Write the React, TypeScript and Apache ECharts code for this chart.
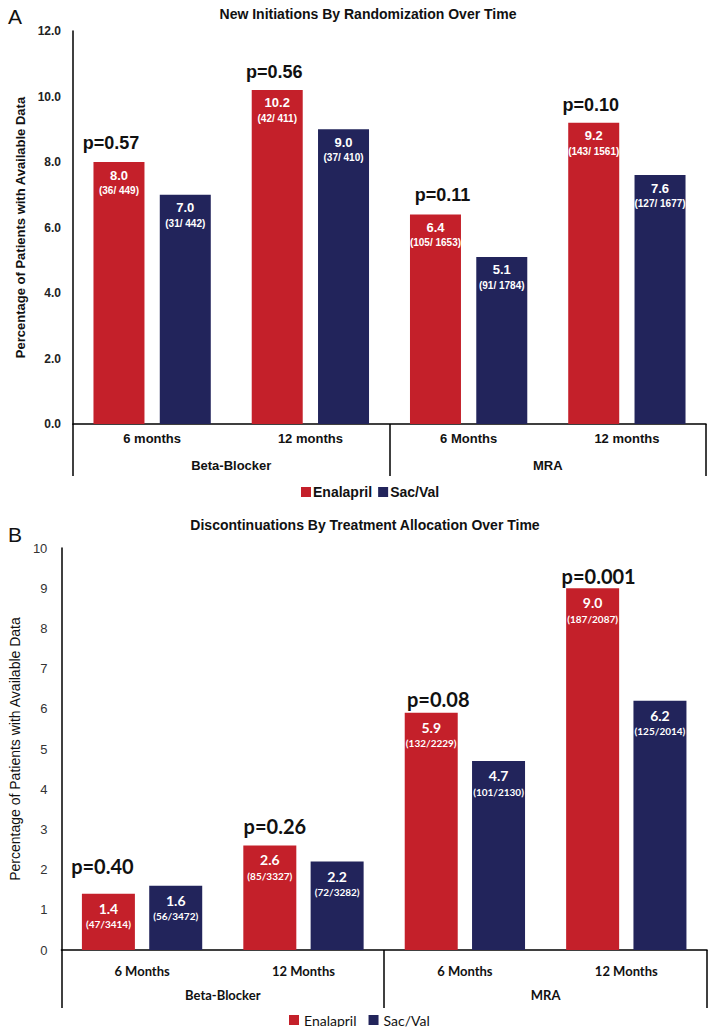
import React, { useEffect, useRef } from "react";
import * as echarts from "echarts";

// ---------- Panel A data ----------
const catsA = ["6 months", "12 months", "6 Months", "12 months"];
const groupsA = ["Beta-Blocker", "MRA"];
const enalA = [8.0, 10.2, 6.4, 9.2];
const sacA = [7.0, 9.0, 5.1, 7.6];
const enalFracA = ["(36/ 449)", "(42/ 411)", "(105/ 1653)", "(143/ 1561)"];
const sacFracA = ["(31/ 442)", "(37/ 410)", "(91/ 1784)", "(127/ 1677)"];
const pA = ["p=0.57", "p=0.56", "p=0.11", "p=0.10"];
const yTicksA = [0, 2, 4, 6, 8, 10, 12];

// ---------- Panel B data ----------
const catsB = ["6 Months", "12 Months", "6 Months", "12 Months"];
const groupsB = ["Beta-Blocker", "MRA"];
const enalB = [1.4, 2.6, 5.9, 9.0];
const sacB = [1.6, 2.2, 4.7, 6.2];
const enalFracB = ["(47/3414)", "(85/3327)", "(132/2229)", "(187/2087)"];
const sacFracB = ["(56/3472)", "(72/3282)", "(101/2130)", "(125/2014)"];
const pB = ["p=0.40", "p=0.26", "p=0.08", "p=0.001"];
const yTicksB = [0, 1, 2, 3, 4, 5, 6, 7, 8, 9, 10];

const seriesNames = ["Enalapril", "Sac/Val"];

// layout offsets for p-value labels (pixels)
const pOffsetA = [[-8, -19], [-3, -18], [7, -19], [-3, -18]];
const pOffsetB = [[-6, -28], [5, -19], [7, -14], [6, -12]];

const RED = "#C4202A";
const NAVY = "#22245B";
const FA = "Liberation Sans, Arial, Helvetica, sans-serif";
const FB = "Lato, Carlito, Calibri, sans-serif";

function barLabel(fracs: string[], font: string, vSize: number, fSize: number, dist: number) {
  return {
    show: true,
    position: "insideTop",
    distance: dist,
    formatter: (p: any) => `{v|${Number(p.value).toFixed(1)}}\n{f|${fracs[p.dataIndex]}}`,
    rich: {
      v: { color: "#fff", fontFamily: font, fontWeight: "bold", fontSize: vSize, lineHeight: vSize + 3, align: "center" },
      f: { color: "#fff", fontFamily: font, fontWeight: "bold", fontSize: fSize, lineHeight: fSize + 5, align: "center" },
    },
  };
}

function pMarks(vals: number[], labels: string[], offsets: number[][], font: string, size: number) {
  return {
    symbol: "circle",
    symbolSize: 1,
    itemStyle: { color: "rgba(0,0,0,0)" },
    silent: true,
    label: {
      show: true,
      position: "inside",
      formatter: "{b}",
      color: "#111",
      fontFamily: font,
      fontWeight: "bold",
      fontSize: size,
    },
    data: vals.map((v, i) => ({
      name: labels[i],
      coord: [i, v],
      label: { offset: offsets[i] },
    })),
  };
}

export default function App() {
  const ref = useRef<HTMLDivElement>(null);
  useEffect(() => {
    document.body.style.margin = "0";
    const chart = echarts.init(ref.current!, null, { renderer: "svg" });
    const axisLineBlack = { show: true, lineStyle: { color: "#000", width: 1.5 } };
    const option: any = {
      animation: false,
      backgroundColor: "#fff",
      title: [
        { text: "A", left: 3, top: 1, textStyle: { fontFamily: FA, fontSize: 21, fontWeight: "normal", color: "#111" } },
        { text: "New Initiations By Randomization Over Time", left: 363, top: 2, textAlign: "center",
          textStyle: { fontFamily: FA, fontSize: 14, fontWeight: "bold", color: "#111" } },
        { text: "B", left: 3, top: 519, textStyle: { fontFamily: FA, fontSize: 21, fontWeight: "normal", color: "#111" } },
        { text: "Discontinuations By Treatment Allocation Over Time", left: 360, top: 513, textAlign: "center",
          textStyle: { fontFamily: FA, fontSize: 14, fontWeight: "bold", color: "#111" } },
      ],
      legend: [
        { data: seriesNames, left: 296, top: 480, itemWidth: 10, itemHeight: 10, itemGap: 6,
          textStyle: { fontFamily: FA, fontSize: 14, fontWeight: "bold", color: "#111", padding: [0, 0, 0, -3] }, icon: "rect" },
        { data: seriesNames, left: 284, top: 1008, itemWidth: 10, itemHeight: 10, itemGap: 12,
          textStyle: { fontFamily: FB, fontSize: 14, color: "#111" }, icon: "rect" },
      ],
      grid: [
        { left: 73, right: 3, top: 31, height: 393 },
        { left: 43, right: 2, top: 548, height: 402 },
      ],
      xAxis: [
        { type: "category", gridIndex: 0, data: catsA, axisLine: axisLineBlack, axisTick: { show: false },
          axisLabel: { margin: 8, fontFamily: FA, fontWeight: "bold", fontSize: 13, color: "#111" } },
        { type: "category", gridIndex: 0, data: groupsA, position: "bottom", axisLine: { show: false },
          axisTick: { show: true, interval: 0, length: 52, lineStyle: { color: "#000", width: 1.5 } },
          axisLabel: { margin: 35, fontFamily: FA, fontWeight: "bold", fontSize: 13, color: "#111" } },
        { type: "category", gridIndex: 1, data: catsB, axisLine: axisLineBlack, axisTick: { show: false },
          axisLabel: { margin: 14, fontFamily: FB, fontWeight: "bold", fontSize: 13, color: "#111" } },
        { type: "category", gridIndex: 1, data: groupsB, position: "bottom", axisLine: { show: false },
          axisTick: { show: true, interval: 0, length: 58, lineStyle: { color: "#000", width: 1.5 } },
          axisLabel: { margin: 38, fontFamily: FB, fontWeight: "bold", fontSize: 13, color: "#111" } },
      ],
      yAxis: [
        { type: "value", gridIndex: 0, min: yTicksA[0], max: yTicksA[yTicksA.length - 1], interval: 2,
          axisLine: axisLineBlack, axisTick: { show: false }, splitLine: { show: false },
          axisLabel: { formatter: (v: number) => v.toFixed(1), margin: 12, fontFamily: FA, fontWeight: "bold", fontSize: 12, color: "#222" },
          name: "Percentage of Patients with Available Data", nameLocation: "middle", nameGap: 45,
          nameTextStyle: { fontFamily: FA, fontSize: 13, fontWeight: "bold", color: "#111" } },
        { type: "value", gridIndex: 1, min: yTicksB[0], max: yTicksB[yTicksB.length - 1], interval: 1,
          axisLine: axisLineBlack, axisTick: { show: false }, splitLine: { show: false },
          axisLabel: { margin: 14, fontFamily: FA, fontSize: 13, color: "#333" },
          name: "Percentage of Patients with Available Data", nameLocation: "middle", nameGap: 30,
          nameTextStyle: { fontFamily: FA, fontSize: 14, color: "#111" } },
      ],
      series: [
        { name: seriesNames[0], type: "bar", xAxisIndex: 0, yAxisIndex: 0, data: enalA, barWidth: 51, barGap: "30%",
          itemStyle: { color: RED }, label: barLabel(enalFracA, FA, 13, 10, 5),
          markPoint: pMarks(enalA, pA, pOffsetA, FA, 18) },
        { name: seriesNames[1], type: "bar", xAxisIndex: 0, yAxisIndex: 0, data: sacA, barWidth: 51, barGap: "30%",
          itemStyle: { color: NAVY }, label: barLabel(sacFracA, FA, 13, 10, 5) },
        { name: seriesNames[0], type: "bar", xAxisIndex: 2, yAxisIndex: 1, data: enalB, barWidth: 53, barGap: "27%",
          itemStyle: { color: RED }, label: barLabel(enalFracB, FB, 14, 10, 6),
          markPoint: pMarks(enalB, pB, pOffsetB, FB, 20) },
        { name: seriesNames[1], type: "bar", xAxisIndex: 2, yAxisIndex: 1, data: sacB, barWidth: 53, barGap: "27%",
          itemStyle: { color: NAVY }, label: barLabel(sacFracB, FB, 14, 10, 6) },
      ],
    };
    chart.setOption(option);
    return () => chart.dispose();
  }, []);
  return <div ref={ref} style={{ width: 709, height: 1027 }} />;
}
